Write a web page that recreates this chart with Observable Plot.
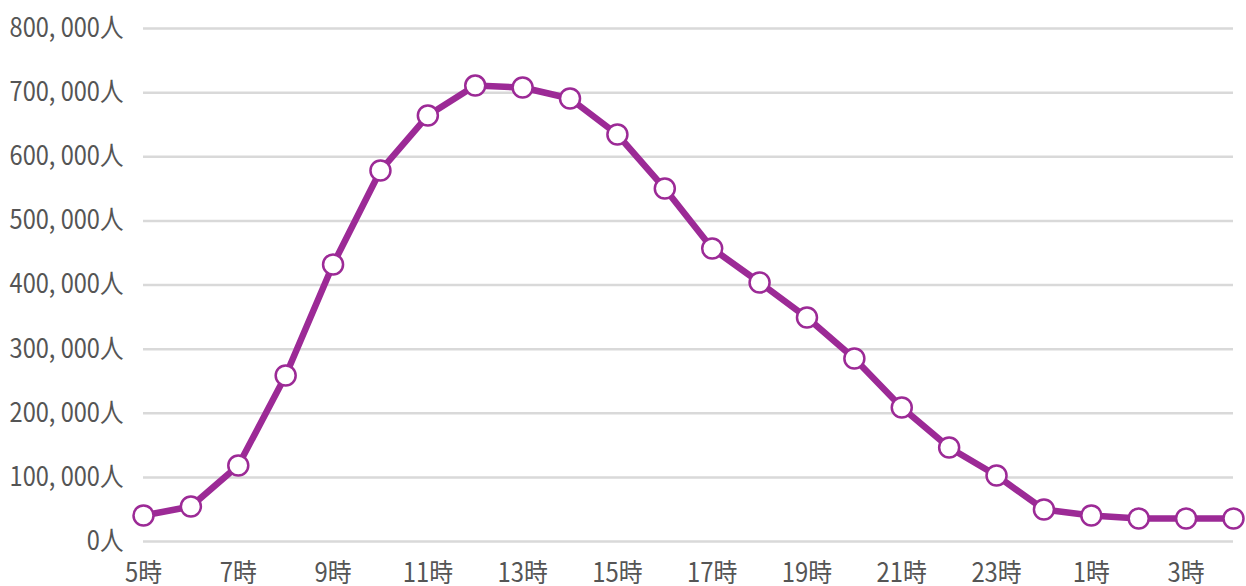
<!DOCTYPE html>
<html><head><meta charset="utf-8">
<script src="https://cdn.jsdelivr.net/npm/d3@7"></script>
<script src="https://cdn.jsdelivr.net/npm/@observablehq/plot@0.6"></script>
<style>
html,body{margin:0;padding:0;background:#fff;}
</style>
</head><body>
<div id="chart"></div>
<script>
const hours = ["5時","6時","7時","8時","9時","10時","11時","12時","13時","14時","15時","16時","17時","18時","19時","20時","21時","22時","23時","0時","1時","2時","3時","4時"];
const people = [40500,54600,118500,258900,432000,578500,664300,711000,708000,690800,634700,550400,456900,403900,349300,285400,209000,146600,102900,49900,40500,35900,35900,35900];
const yTicks = [0,100000,200000,300000,400000,500000,600000,700000,800000];
const yTickLabels = ["0人","100, 000人","200, 000人","300, 000人","400, 000人","500, 000人","600, 000人","700, 000人","800, 000人"];
const xTickLabels = ["5時","7時","9時","11時","13時","15時","17時","19時","21時","23時","1時","3時"];

const data = hours.map((h, i) => ({i, hour: h, value: people[i]}));
const xTicks = xTickLabels.map(l => hours.indexOf(l));
const purple = "#9c2a96";
const font = "'Noto Sans CJK JP', 'Noto Sans', sans-serif";

const chart = Plot.plot({
  width: 1246,
  height: 586,
  marginLeft: 143,
  marginRight: 13,
  marginTop: 28,
  marginBottom: 45,
  style: {fontFamily: font, fontSize: "26px", color: "#555", background: "#fff"},
  x: {type: "linear", domain: [0, hours.length - 1]},
  y: {domain: [0, 800000]},
  marks: [
    Plot.ruleY(yTicks, {stroke: "#d9d9d9", strokeWidth: 2.5}),
    Plot.axisY(yTicks, {tickSize: 0, tickPadding: 20, fontSize: 26.5, fill: "#555",
      tickFormat: d => yTickLabels[yTicks.indexOf(d)], label: null}),
    Plot.axisX(xTicks, {tickSize: 0, tickPadding: 22, fontSize: 26.5, fill: "#555",
      tickFormat: d => hours[d], label: null}),
    Plot.line(data, {x: "i", y: "value", stroke: purple, strokeWidth: 6.5, strokeLinejoin: "round"}),
    Plot.dot(data, {x: "i", y: "value", r: 10, fill: "#fff", stroke: purple, strokeWidth: 2.5})
  ]
});
// condense tick label glyphs horizontally around their anchor point
chart.querySelectorAll('g[aria-label="y-axis tick label"] text').forEach(t => {
  t.setAttribute("transform", (t.getAttribute("transform") || "") + " scale(0.89,1)");
});
chart.querySelectorAll('g[aria-label="x-axis tick label"] text').forEach(t => {
  t.setAttribute("transform", (t.getAttribute("transform") || "") + " scale(0.9,1)");
});
document.getElementById("chart").appendChild(chart);
</script>
</body></html>
